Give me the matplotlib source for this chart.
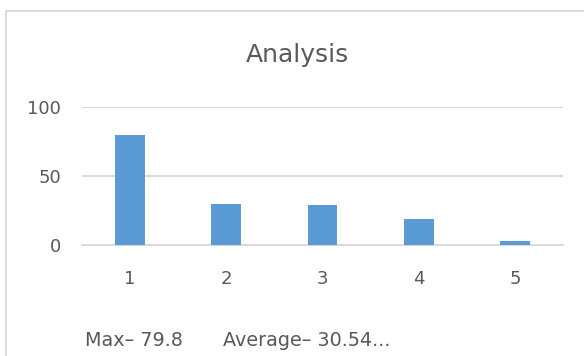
import matplotlib.pyplot as plt
from matplotlib.patches import Rectangle

# data
categories = ["1", "2", "3", "4", "5"]
values = [79.8, 29.7, 29.1, 18.9, 3.0]
y_ticks = [0, 50, 100]
footer_max = "Max\u2013 79.8"
footer_avg = "Average\u2013 30.54..."

bar_color = "#5B9BD5"
grid_color = "#D9D9D9"
text_color = "#595959"

plt.rcParams["font.family"] = ["DejaVu Sans"]

fig = plt.figure(figsize=(5.84, 3.56), dpi=100)
ax = fig.add_axes([82 / 584, 1 - 245 / 356, 481 / 584, 138 / 356])

x = range(len(categories))
ax.bar(x, values, width=0.31, color=bar_color, zorder=3)

ax.set_xlim(-0.5, len(categories) - 0.5)
ax.set_ylim(0, 100)
ax.set_xticks(list(x))
ax.set_xticklabels(categories)
ax.set_yticks(y_ticks)
ax.set_yticklabels([str(t) for t in y_ticks])
ax.tick_params(axis="both", length=0, labelsize=13, colors=text_color)
ax.tick_params(axis="x", pad=18)
ax.tick_params(axis="y", pad=15)

ax.grid(axis="y", color=grid_color, linewidth=1.4, zorder=0)
for s in ["top", "right", "left"]:
    ax.spines[s].set_visible(False)
ax.spines["bottom"].set_color(grid_color)
ax.spines["bottom"].set_linewidth(1.4)

# chart frame
fig.patches.append(Rectangle((6 / 584, -0.1), 1.1, 1 - 11 / 356 + 0.1,
                             transform=fig.transFigure, fill=False,
                             edgecolor=grid_color, linewidth=1.4))

fig.text(297 / 584, 1 - 55 / 356, "Analysis", ha="center", va="center",
         fontsize=18, color=text_color)
fig.text(85 / 584, 1 - 341 / 356, footer_max, ha="left", va="center",
         fontsize=13.8, color=text_color)
fig.text(223 / 584, 1 - 341 / 356, footer_avg, ha="left", va="center",
         fontsize=13.8, color=text_color)

fig.savefig("out.png", dpi=100)
